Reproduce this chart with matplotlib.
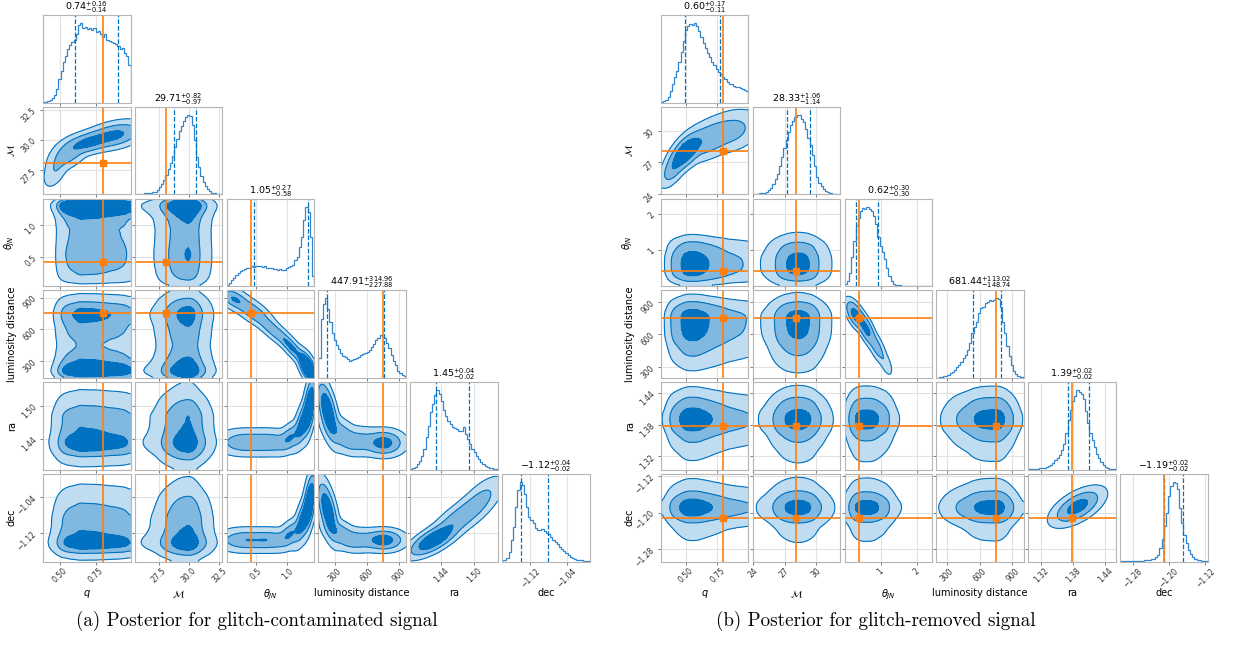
import numpy as np
import matplotlib.pyplot as plt

# ---------------- data ----------------
labels = [r'$q$', r'$\mathcal{M}$', r'$\theta_{JN}$', 'luminosity distance', 'ra', 'dec']

# (a) glitch-contaminated signal
a_range = [(0.38, 0.99), (25.5, 32.75), (0.04, 1.42), (142, 968), (1.383, 1.543), (-1.182, -0.99)]
a_ticks = [[0.5, 0.75], [27.5, 30.0, 32.5], [0.5, 1.0], [300, 600, 900], [1.44, 1.50], [-1.12, -1.04]]
a_ticklabels = [['0.50', '0.75'], ['27.5', '30.0', '32.5'], ['0.5', '1.0'], ['300', '600', '900'],
                ['1.44', '1.50'], ['\u22121.12', '\u22121.04']]
a_truth = [0.80, 28.1, 0.42, 750, None, None]
a_median = [0.74, 29.71, 1.05, 447.91, 1.45, -1.12]
a_plus = [0.16, 0.82, 0.27, 314.96, 0.04, 0.04]
a_minus = [0.14, 0.97, 0.58, 227.88, 0.02, 0.02]

a_h_q = [1, 2, 5, 8, 14, 22, 40, 70, 95, 120, 140, 160, 172, 182, 188, 205, 232, 238, 222, 226,
         220, 224, 218, 222, 212, 214, 205, 196, 204, 186, 184, 180, 178, 175, 170, 160, 162, 148, 140, 112]
a_h_mc = [1, 1, 2, 2, 3, 3, 4, 5, 6, 8, 12, 22, 32, 45, 60, 78, 95, 118, 145, 170,
          192, 210, 225, 235, 243, 238, 212, 165, 115, 82, 55, 38, 25, 15, 9, 5, 3, 2, 1, 1]
a_h_th = [3, 10, 18, 26, 33, 40, 45, 48, 52, 55, 56, 60, 58, 62, 60, 62, 58, 60, 56, 55,
          54, 52, 52, 50, 53, 48, 50, 55, 58, 60, 65, 78, 90, 118, 150, 200, 242, 225, 150, 30]
a_h_dl = [60, 175, 220, 238, 205, 168, 135, 113, 98, 85, 75, 66, 62, 58, 52, 54, 56, 60, 64, 68,
          71, 75, 78, 84, 92, 100, 112, 120, 128, 124, 120, 104, 88, 70, 52, 38, 22, 14, 9, 5]
a_h_ra = [3, 5, 8, 14, 22, 35, 55, 85, 115, 150, 170, 195, 207, 198, 178, 155, 140, 128, 118, 112,
          108, 105, 102, 100, 112, 92, 80, 68, 55, 45, 35, 28, 20, 15, 10, 7, 5, 4, 3, 2]
a_h_dec = [3, 5, 9, 25, 55, 90, 140, 185, 205, 198, 175, 140, 115, 108, 98, 86, 82, 80, 84, 78,
           74, 70, 62, 56, 50, 44, 38, 32, 26, 22, 17, 12, 9, 7, 5, 4, 3, 2, 2, 1]

# correlated 2D panels: blobs (x, y, sx, sy, rho, weight)
a_blobs_q_mc = [(0.88, 30.4, 0.09, 0.5, 0.4, 1.0), (0.70, 29.8, 0.08, 0.45, 0.5, 0.8),
                (0.56, 28.9, 0.06, 0.6, 0.5, 0.4), (0.47, 27.6, 0.04, 0.7, 0.5, 0.12)]
a_blobs_th_dl = [(0.15, 890, 0.12, 55, -0.5, 0.35), (0.45, 770, 0.15, 70, -0.7, 0.45),
                 (0.78, 590, 0.15, 80, -0.85, 0.35), (1.08, 420, 0.12, 80, -0.85, 0.35),
                 (1.32, 240, 0.07, 70, -0.6, 0.9)]
a_blobs_th_ra = [(0.3, 1.433, 0.2, 0.011, 0, 0.35), (0.72, 1.433, 0.2, 0.011, 0, 0.35),
                 (1.05, 1.443, 0.1, 0.013, 0.5, 0.2), (1.25, 1.47, 0.07, 0.02, 0.6, 0.35),
                 (1.35, 1.50, 0.05, 0.025, 0.5, 0.5)]
a_blobs_dl_ra = [(230, 1.49, 45, 0.025, -0.6, 0.9), (350, 1.45, 80, 0.015, -0.5, 0.3),
                 (520, 1.435, 100, 0.012, 0, 0.3), (760, 1.432, 90, 0.011, 0, 0.6)]
a_blobs_th_dec = [(0.3, -1.135, 0.2, 0.012, 0, 0.35), (0.72, -1.135, 0.2, 0.012, 0, 0.35),
                  (1.05, -1.12, 0.1, 0.015, 0.5, 0.2), (1.25, -1.09, 0.07, 0.025, 0.6, 0.35),
                  (1.35, -1.05, 0.05, 0.03, 0.5, 0.5)]
a_blobs_dl_dec = [(230, -1.07, 45, 0.03, -0.6, 0.9), (350, -1.12, 80, 0.015, -0.5, 0.3),
                  (520, -1.135, 100, 0.012, 0, 0.3), (760, -1.135, 90, 0.011, 0, 0.6)]
a_blobs_ra_dec = [(1.425, -1.135, 0.02, 0.016, 0.7, 1.0), (1.47, -1.09, 0.025, 0.025, 0.8, 0.6),
                  (1.51, -1.05, 0.02, 0.025, 0.7, 0.3)]

# (b) glitch-removed signal
b_range = [(0.30, 1.0), (24.0, 32.25), (0.0, 2.43), (200, 1005), (1.295, 1.46), (-1.308, -1.115)]
b_ticks = [[0.5, 0.75], [24, 27, 30], [1, 2], [300, 600, 900], [1.32, 1.38, 1.44], [-1.28, -1.20, -1.12]]
b_ticklabels = [['0.50', '0.75'], ['24', '27', '30'], ['1', '2'], ['300', '600', '900'],
                ['1.32', '1.38', '1.44'], ['\u22121.28', '\u22121.20', '\u22121.12']]
b_truth = [0.80, 28.05, 0.41, 750, 1.377, -1.212]
b_median = [0.60, 28.33, 0.62, 681.44, 1.39, -1.19]
b_plus = [0.17, 1.06, 0.30, 113.02, 0.02, 0.02]
b_minus = [0.11, 1.14, 0.30, 148.74, 0.02, 0.02]

b_h_q = [2, 4, 6, 15, 35, 55, 75, 95, 120, 150, 185, 218, 228, 236, 232, 238, 228, 215, 195, 178,
         162, 148, 135, 122, 112, 100, 92, 84, 76, 70, 60, 55, 56, 50, 46, 45, 42, 40, 36, 34]
b_h_mc = [1, 1, 2, 3, 4, 5, 7, 12, 18, 30, 45, 62, 85, 112, 140, 162, 185, 208, 220, 232,
          238, 236, 226, 215, 195, 168, 148, 118, 85, 52, 35, 25, 16, 10, 6, 4, 2, 1, 1, 1]
b_h_th = [5, 15, 40, 90, 140, 185, 210, 230, 242, 238, 245, 236, 232, 215, 190, 150, 125, 105, 82, 55,
          32, 16, 8, 4, 3, 2, 1, 1, 1, 1, 0.5, 0.5, 0.5, 0.3, 0.3, 0.2, 0.2, 0.1, 0.1, 0.1]
b_h_dl = [1, 2, 3, 5, 7, 10, 14, 19, 25, 32, 40, 48, 60, 70, 85, 105, 135, 155, 170, 195,
          210, 215, 225, 230, 236, 232, 236, 240, 238, 215, 170, 135, 95, 65, 40, 20, 12, 6, 3, 2]
b_h_ra = [1, 1, 2, 2, 3, 4, 5, 6, 8, 11, 15, 20, 28, 36, 45, 58, 78, 110, 150, 178,
          205, 222, 238, 232, 225, 212, 175, 140, 110, 88, 68, 48, 35, 22, 14, 8, 5, 3, 2, 1]
b_h_dec = [0.5, 0.5, 0.5, 0.5, 0.5, 1, 1, 1, 1, 2, 2, 3, 4, 5, 6, 8, 12, 20, 40, 68,
           105, 145, 195, 225, 236, 232, 215, 160, 115, 80, 55, 35, 22, 12, 8, 5, 3, 2, 1, 1]

b_blobs_q_mc = [(0.50, 28.0, 0.06, 0.8, 0.6, 1.0), (0.68, 29.2, 0.1, 0.9, 0.5, 0.7),
                (0.88, 30.0, 0.1, 0.9, 0.3, 0.4), (0.40, 26.5, 0.05, 0.8, 0.6, 0.25)]
b_blobs_th_dl = [(0.3, 780, 0.12, 60, -0.6, 1.0), (0.6, 650, 0.12, 70, -0.7, 0.9),
                 (0.9, 480, 0.12, 70, -0.7, 0.3), (1.15, 330, 0.08, 50, -0.6, 0.06)]
b_blobs_ra_dec = [(1.388, -1.187, 0.019, 0.016, 0.6, 1.0)]

# ---------------- style ----------------
BLUE = '#0072C1'
LIGHT = '#bfdcf0'
MID = '#80b8e0'
ORANGE = '#ff7f0e'
FRACS = [1 - np.exp(-0.5), 1 - np.exp(-2.0), 1 - np.exp(-4.5)]

W, H = 1237, 646
SIZE = 87.5
PITCH = 91.8
TOP = 15

fig = plt.figure(figsize=(W / 100, H / 100), dpi=100)


def smooth(h, s=1.0):
    k = np.exp(-0.5 * (np.arange(-3, 4) / s) ** 2)
    k /= k.sum()
    return np.convolve(np.pad(h, 3, mode='edge'), k, mode='valid')


def thresholds(D):
    flat = np.sort(D.ravel())[::-1]
    cum = np.cumsum(flat)
    cum /= cum[-1]
    return sorted(flat[min(np.searchsorted(cum, f), len(flat) - 1)] for f in FRACS)


def blob_density(blobs, xr, yr, n=120):
    x = np.linspace(xr[0], xr[1], n)
    y = np.linspace(yr[0], yr[1], n)
    X, Y = np.meshgrid(x, y)
    D = np.zeros_like(X)
    for mx, my, sx, sy, r, w in blobs:
        u = (X - mx) / sx
        v = (Y - my) / sy
        qf = (u * u - 2 * r * u * v + v * v) / (1 - r * r)
        D += w * np.exp(-0.5 * qf) / (sx * sy * np.sqrt(1 - r * r))
    return x, y, D, thresholds(D)


def centers(r, n):
    e = np.linspace(r[0], r[1], n + 1)
    return np.concatenate([[r[0]], 0.5 * (e[1:] + e[:-1]), [r[1]]])


def product_density(hx, hy, xr, yr):
    sx = smooth(np.asarray(hx, float))
    sy = smooth(np.asarray(hy, float))
    D = np.outer(sy, sx)
    V = thresholds(D)
    return centers(xr, len(sx)), centers(yr, len(sy)), np.pad(D, 1, mode='edge'), V


def style(ax):
    for s in ax.spines.values():
        s.set_color('#b5b5b5')
        s.set_linewidth(0.8)
    ax.tick_params(labelsize=5.5, length=2.5, width=0.6, color='#666666',
                   labelcolor='#333333', pad=1)
    ax.set_axisbelow(True)


def corner(x0, rng, ticks, tlabels, truth, med, plus, minus, hists, blobs):
    n = len(rng)
    for i in range(n):
        for j in range(i + 1):
            ax = fig.add_axes([(x0 + j * PITCH) / W, 1 - (TOP + i * PITCH + SIZE) / H,
                               SIZE / W, SIZE / H])
            style(ax)
            ax.set_xlim(rng[j])
            ax.set_xticks(ticks[j])
            if i == n - 1:
                ax.set_xticklabels(tlabels[j], rotation=45)
                ax.set_xlabel(labels[j], fontsize=7)
                ax.xaxis.set_label_coords(0.5, -0.3)
            else:
                ax.set_xticklabels([])
            if i == j:
                h = np.asarray(hists[j], float)
                edges = np.linspace(rng[j][0], rng[j][1], len(h) + 1)
                ax.grid(True, axis='x', color='#e2e2e2', lw=0.8)
                ax.stairs(h, edges, color='#2f86cf', lw=0.9)
                ax.set_ylim(0, 1.1 * h.max())
                ax.set_yticks([])
                for v in (med[j] - minus[j], med[j] + plus[j]):
                    ax.axvline(v, color=BLUE, ls='--', lw=0.9)
                if truth[j] is not None:
                    ax.axvline(truth[j], color=ORANGE, lw=1.2)
                ax.set_title(f'${med[j]:.2f}^{{+{plus[j]:.2f}}}_{{-{minus[j]:.2f}}}$',
                             fontsize=6.8, pad=-1)
                continue
            ax.grid(True, color='#e2e2e2', lw=0.8)
            ax.set_ylim(rng[i])
            ax.set_yticks(ticks[i])
            if j == 0:
                ax.set_yticklabels(tlabels[i], rotation=45)
                ax.set_ylabel(labels[i], fontsize=7)
                ax.yaxis.set_label_coords(-0.3, 0.5)
            else:
                ax.set_yticklabels([])
            if (i, j) in blobs:
                x, y, D, V = blob_density(blobs[(i, j)], rng[j], rng[i])
            else:
                x, y, D, V = product_density(hists[j], hists[i], rng[j], rng[i])
            ax.contourf(x, y, D, levels=list(V) + [D.max() * 1.001], colors=[LIGHT, MID, BLUE])
            ax.contour(x, y, D, levels=V, colors=BLUE, linewidths=0.8)
            if truth[j] is not None:
                ax.axvline(truth[j], color=ORANGE, lw=1.2)
            if truth[i] is not None:
                ax.axhline(truth[i], color=ORANGE, lw=1.2)
            if truth[i] is not None and truth[j] is not None:
                ax.plot(truth[j], truth[i], 's', color=ORANGE, ms=4)


a_hists = [a_h_q, a_h_mc, a_h_th, a_h_dl, a_h_ra, a_h_dec]
a_blobs = {(1, 0): a_blobs_q_mc, (3, 2): a_blobs_th_dl, (4, 2): a_blobs_th_ra,
           (4, 3): a_blobs_dl_ra, (5, 2): a_blobs_th_dec, (5, 3): a_blobs_dl_dec,
           (5, 4): a_blobs_ra_dec}
b_hists = [b_h_q, b_h_mc, b_h_th, b_h_dl, b_h_ra, b_h_dec]
b_blobs = {(1, 0): b_blobs_q_mc, (3, 2): b_blobs_th_dl, (5, 4): b_blobs_ra_dec}

corner(43, a_range, a_ticks, a_ticklabels, a_truth, a_median, a_plus, a_minus, a_hists, a_blobs)
corner(661, b_range, b_ticks, b_ticklabels, b_truth, b_median, b_plus, b_minus, b_hists, b_blobs)

fig.text(257 / W, 1 - 626 / H, '(a) Posterior for glitch-contaminated signal',
         ha='center', va='baseline', family='cmr10', fontsize=13.7)
fig.text(876 / W, 1 - 626 / H, '(b) Posterior for glitch-removed signal',
         ha='center', va='baseline', family='cmr10', fontsize=13.7)

fig.savefig('out.png', dpi=100)
